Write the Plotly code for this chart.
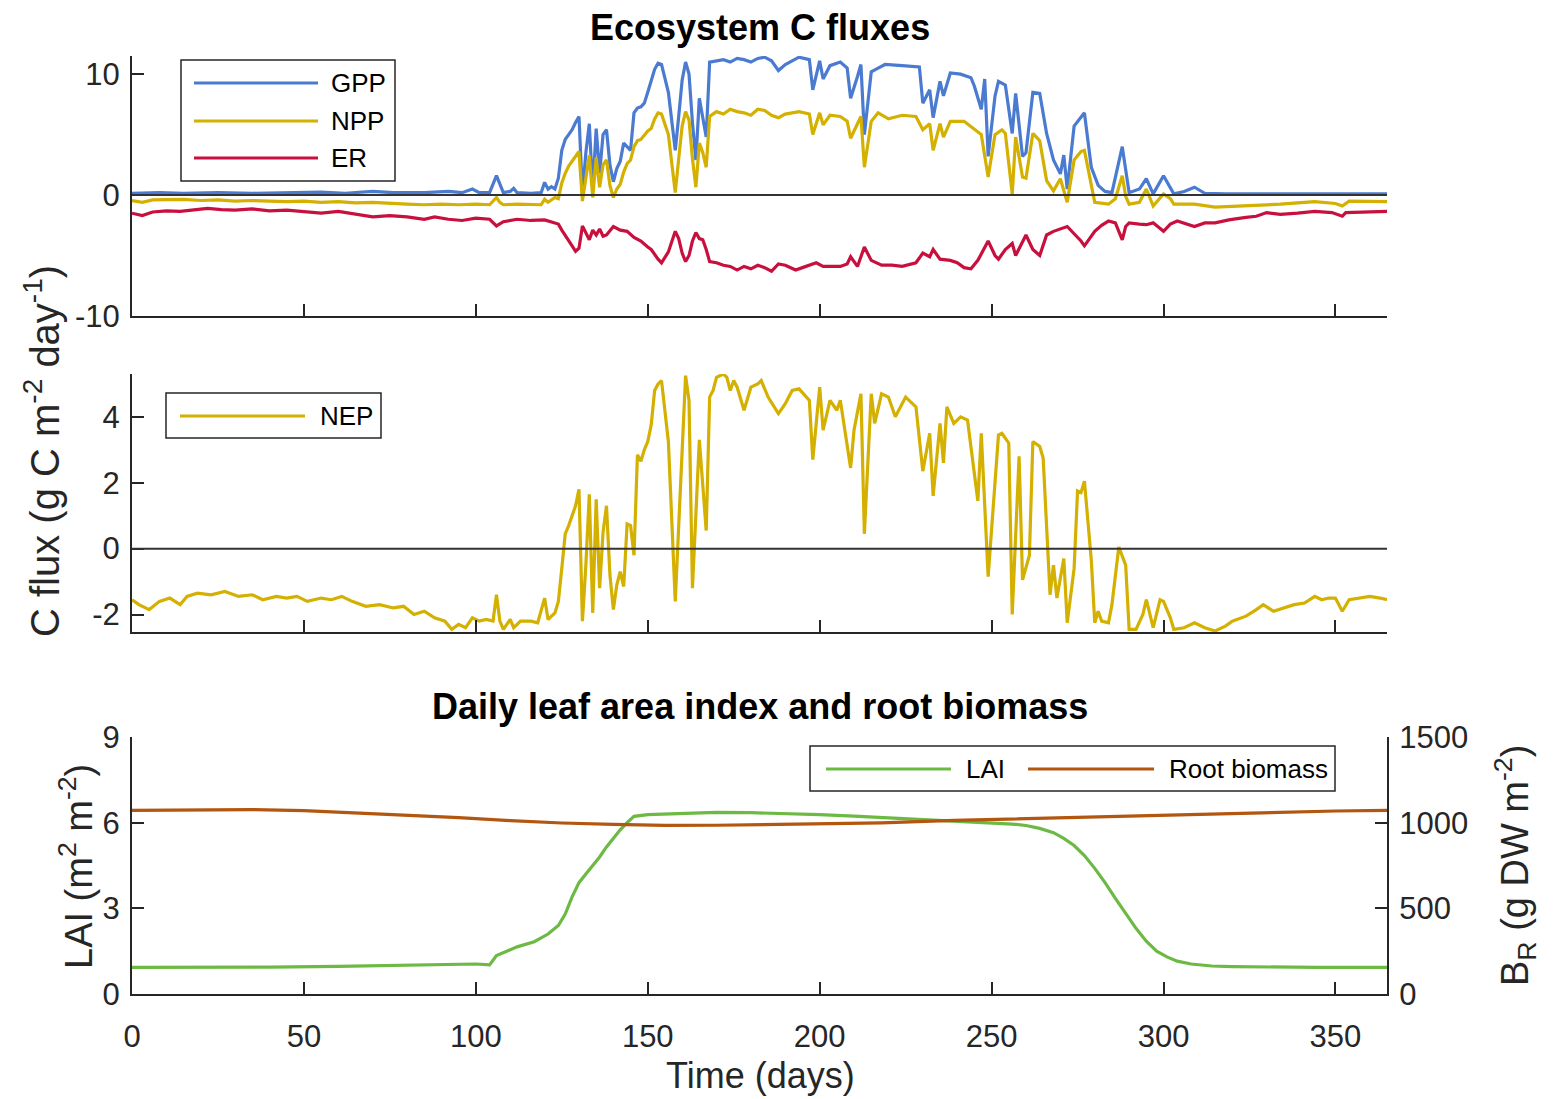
import plotly.graph_objects as go

# ---------------- data ----------------
gpp_days = [0, 8, 15, 25, 35, 45, 55, 62, 70, 76, 85, 92, 96, 99, 101, 104, 106, 107, 108, 110, 111, 112,
            116, 119, 120, 121, 122, 123, 124, 125, 126, 127, 128, 129, 130, 131, 132, 133, 134, 135, 136,
            137, 138, 139, 140, 141, 142, 143, 144, 145, 146, 147, 148, 149, 150, 151, 152, 153, 154, 156,
            158, 159, 160, 161, 162, 163, 164, 165, 166, 167, 168, 170, 172, 174, 176, 178, 180, 182, 184,
            186, 188, 190, 194, 197, 198, 200, 201, 203, 206, 208, 209, 211, 212, 213, 215, 217, 219, 224,
            229, 230, 232, 233, 235, 236, 238, 241, 244, 245, 247, 248, 249, 251, 252, 254, 256, 257, 259,
            260, 262, 264, 266, 268, 270, 271, 272, 274, 276, 277, 279, 281, 283, 285, 288, 290, 293, 295,
            297, 300, 303, 306, 309, 312, 318, 325, 335, 345, 355, 365]
gpp = [0.15, 0.2, 0.15, 0.2, 0.15, 0.2, 0.25, 0.15, 0.3, 0.2, 0.2, 0.3, 0.2, 0.5, 0.2, 0.2, 1.6, 0.9, 0.2, 0.3,
       0.55, 0.2, 0.15, 0.2, 1.05, 0.5, 0.7, 0.5, 1.4, 3.7, 4.6, 5.0, 5.4, 6.0, 6.5, 0.1, 3.5, 5.9, 0.4, 5.5,
       1.8, 5.0, 5.4, 2.5, 1.1, 2.2, 2.8, 4.3, 4.0, 3.7, 6.8, 7.2, 7.3, 7.6, 8.5, 9.5, 10.4, 10.9, 10.8, 8.5,
       3.7, 6.5, 9.5, 11.0, 10.0, 6.0, 2.9, 8.0, 6.5, 4.8, 11.0, 11.1, 11.2, 11.0, 11.3, 11.2, 11.0, 11.3,
       11.4, 11.1, 10.3, 10.8, 11.4, 11.2, 8.7, 11.1, 9.6, 10.7, 11.0, 10.5, 8.0, 9.8, 10.8, 5.0, 10.2, 10.5,
       10.8, 10.7, 10.6, 7.6, 8.7, 6.4, 9.4, 8.2, 10.1, 10.0, 9.7, 9.0, 7.1, 9.6, 3.2, 8.2, 9.4, 9.1, 5.1,
       8.4, 3.2, 3.5, 8.5, 8.4, 5.1, 2.9, 1.75, 3.3, 0.5, 5.7, 6.5, 6.8, 2.3, 0.8, 0.3, 0.2, 4.0, 0.2, 0.5,
       1.35, 0.1, 1.6, 0.1, 0.3, 0.65, 0.15, 0.1, 0.12, 0.1, 0.1, 0.1, 0.1]

npp_days = [0, 3, 6, 10, 15, 20, 25, 30, 35, 40, 45, 50, 55, 60, 65, 70, 75, 80, 85, 90, 95, 100, 104, 106,
            107, 108, 112, 116, 119, 120, 121, 123, 124, 125, 126, 127, 128, 129, 130, 131, 132, 133, 134,
            135, 136, 137, 138, 139, 140, 141, 142, 143, 144, 145, 146, 147, 148, 150, 151, 152, 153, 154,
            156, 158, 159, 160, 161, 162, 163, 164, 165, 166, 167, 168, 170, 172, 174, 176, 178, 180, 182,
            184, 186, 188, 190, 194, 197, 198, 200, 201, 203, 206, 208, 209, 211, 212, 213, 215, 217, 220,
            224, 228, 230, 232, 233, 235, 236, 238, 242, 245, 247, 249, 251, 253, 254, 256, 257, 259, 260,
            262, 264, 266, 268, 270, 272, 274, 276, 277, 279, 280, 284, 286, 288, 289, 290, 293, 295, 297,
            300, 302, 303, 309, 315, 319, 324, 330, 334, 339, 344, 350, 352, 354, 360, 365]
npp = [-0.45, -0.6, -0.4, -0.4, -0.35, -0.45, -0.4, -0.5, -0.45, -0.5, -0.55, -0.5, -0.6, -0.55, -0.65, -0.6,
       -0.7, -0.75, -0.8, -0.75, -0.8, -0.75, -0.8, -0.2, -0.6, -0.8, -0.75, -0.8, -0.8, -0.35, -0.6, -0.2,
       -0.3, 1.0, 1.8, 2.4, 2.8, 3.2, 3.6, -0.5, 1.5, 3.3, -0.2, 3.1, 0.65, 2.5, 2.9, 0.8, -0.2, 0.5, 0.9,
       1.9, 2.6, 2.9, 4.0, 4.5, 4.6, 5.3, 5.5, 6.3, 6.8, 6.7, 5.0, 0.2, 3.0, 5.7, 6.9, 6.2, 3.0, 0.65, 4.3,
       3.5, 2.3, 6.5, 6.9, 6.7, 7.1, 6.9, 6.8, 6.6, 7.1, 7.0, 6.6, 6.4, 6.7, 6.9, 6.7, 5.0, 6.8, 5.8, 6.6,
       6.5, 6.1, 4.7, 5.9, 6.5, 2.3, 6.1, 6.8, 6.3, 6.6, 6.5, 5.4, 5.9, 3.7, 5.9, 4.8, 6.1, 6.1, 5.4, 5.0,
       1.5, 5.0, 5.4, 5.1, 0.1, 4.8, 1.5, 1.4, 5.1, 4.5, 1.2, 0.35, 1.35, -0.6, 2.9, 3.6, 3.7, 0.9, -0.6,
       -0.75, -0.3, 1.6, -0.1, -0.75, -0.6, 0.5, -0.9, 0.1, -0.3, -0.75, -0.75, -1.0, -0.95, -0.9, -0.85,
       -0.75, -0.65, -0.55, -0.7, -0.9, -0.5, -0.55, -0.55]

er_days = [0, 3, 6, 10, 14, 18, 22, 26, 30, 35, 40, 45, 50, 55, 60, 65, 70, 75, 80, 85, 88, 92, 96, 100, 104,
           106, 108, 112, 116, 120, 122, 124, 125, 126, 127, 128, 129, 130, 131, 132, 133, 134, 135, 136,
           137, 138, 139, 140, 142, 144, 146, 148, 150, 151, 153, 154, 156, 158, 159, 160, 161, 162, 163,
           164, 165, 166, 167, 168, 170, 172, 174, 176, 178, 180, 182, 184, 186, 188, 190, 193, 195, 197,
           199, 201, 203, 206, 208, 209, 211, 213, 215, 218, 221, 224, 228, 230, 232, 233, 235, 238, 240,
           242, 244, 246, 249, 251, 252, 254, 256, 257, 260, 262, 264, 266, 268, 270, 272, 274, 276, 277,
           280, 282, 284, 286, 288, 289, 290, 293, 295, 297, 300, 302, 304, 309, 312, 315, 319, 324, 327,
           330, 334, 339, 344, 349, 352, 353, 358, 363, 365]
er = [-1.5, -1.7, -1.4, -1.3, -1.35, -1.2, -1.1, -1.2, -1.25, -1.15, -1.3, -1.25, -1.4, -1.5, -1.35, -1.6,
      -1.8, -1.7, -1.8, -2.0, -1.8, -2.0, -2.1, -1.9, -2.0, -2.55, -2.2, -2.0, -2.1, -2.05, -2.2, -2.4, -2.9,
      -3.3, -3.8, -4.2, -4.65, -4.4, -2.55, -3.2, -3.7, -2.9, -3.3, -2.8, -3.4, -3.3, -2.9, -2.6, -2.9, -3.0,
      -3.5, -3.8, -4.3, -4.5, -5.3, -5.6, -4.7, -3.0, -3.6, -4.8, -5.5, -5.0, -3.8, -3.1, -3.6, -3.7, -4.5,
      -5.5, -5.6, -5.8, -5.9, -6.2, -5.9, -6.1, -5.8, -6.0, -6.3, -5.7, -5.8, -6.2, -6.0, -5.8, -5.6, -5.9,
      -5.9, -5.9, -5.7, -5.1, -5.9, -4.3, -5.4, -5.8, -5.8, -5.9, -5.6, -4.8, -5.1, -4.5, -5.3, -5.4, -5.6,
      -6.0, -6.1, -5.4, -3.8, -5.0, -5.3, -4.5, -4.0, -5.0, -3.3, -4.5, -5.0, -3.3, -3.0, -2.8, -2.6, -3.2,
      -3.8, -4.2, -3.0, -2.5, -2.15, -2.3, -3.7, -2.6, -2.3, -2.4, -2.45, -2.3, -3.0, -2.4, -2.15, -2.6,
      -2.3, -2.3, -2.05, -1.85, -1.75, -1.45, -1.6, -1.5, -1.35, -1.45, -1.75, -1.45, -1.4, -1.35, -1.35]

nep_days = [0, 2, 5, 8, 11, 14, 16, 19, 23, 27, 31, 35, 38, 42, 45, 48, 51, 55, 58, 61, 64, 68, 72, 76, 79,
            82, 85, 88, 91, 93, 95, 97, 99, 101, 103, 105, 106, 107, 108, 110, 111, 113, 116, 118, 120, 121,
            123, 124, 125, 126, 127, 128, 129, 130, 131, 132, 133, 134, 135, 136, 137, 138, 139, 140, 141,
            142, 143, 144, 145, 146, 147, 148, 149, 150, 151, 152, 153, 154, 156, 158, 161, 162, 163, 165,
            166, 167, 168, 169, 170, 172, 173, 174, 175, 176, 178, 180, 182, 183, 185, 188, 190, 192, 194,
            197, 198, 200, 201, 203, 205, 206, 209, 210, 212, 213, 215, 216, 218, 220, 222, 225, 228, 230,
            232, 233, 235, 236, 237, 239, 241, 243, 246, 247, 249, 252, 253, 255, 256, 258, 259, 261, 262,
            264, 265, 267, 268, 269, 271, 272, 274, 275, 276, 277, 279, 280, 281, 282, 284, 285, 287, 289,
            290, 292, 294, 295, 297, 299, 300, 302, 303, 306, 309, 312, 315, 318, 320, 324, 327, 329, 332,
            335, 338, 341, 344, 346, 348, 350, 352, 354, 357, 360, 363, 365]
nep = [-1.55, -1.7, -1.85, -1.6, -1.5, -1.7, -1.45, -1.35, -1.4, -1.3, -1.45, -1.4, -1.55, -1.45, -1.5, -1.45,
       -1.6, -1.5, -1.55, -1.45, -1.6, -1.75, -1.7, -1.8, -1.75, -2.0, -1.9, -2.1, -2.2, -2.45, -2.3, -2.4,
       -2.1, -2.2, -2.15, -2.2, -1.4, -2.2, -2.45, -2.15, -2.4, -2.2, -2.2, -2.25, -1.5, -2.15, -1.95, -1.6,
       -0.6, 0.45, 0.7, 1.0, 1.3, 1.8, -2.2, -0.5, 1.65, -1.95, 1.5, -1.2, 0.5, 1.3, -0.8, -1.85, -1.1, -0.7,
       -1.15, 0.75, 0.7, -0.2, 2.85, 2.65, 3.0, 3.25, 3.75, 4.8, 5.0, 5.1, 3.25, -1.6, 5.25, 4.5, -1.2, 3.3,
       1.8, 0.55, 4.6, 4.8, 5.2, 5.3, 5.2, 4.8, 5.1, 4.9, 4.2, 4.9, 5.0, 5.1, 4.6, 4.1, 4.4, 4.8, 4.85, 4.5,
       2.7, 4.9, 3.6, 4.5, 4.2, 4.5, 2.45, 3.6, 4.7, 0.45, 4.7, 3.8, 4.7, 4.6, 4.0, 4.6, 4.3, 2.35, 3.5, 1.6,
       3.8, 2.6, 4.3, 3.8, 4.0, 3.9, 1.45, 3.5, -0.85, 3.45, 3.5, 3.2, -2.0, 2.8, -0.95, -0.2, 3.25, 3.1,
       2.75, -1.4, -0.5, -1.5, -0.3, -2.25, -0.6, 1.75, 1.7, 2.05, -0.35, -2.25, -1.9, -2.2, -2.25, -1.7,
       0.05, -0.5, -2.45, -2.45, -2.0, -1.55, -2.4, -1.55, -1.6, -2.1, -2.45, -2.4, -2.25, -2.4, -2.5, -2.35,
       -2.2, -2.05, -1.85, -1.7, -1.9, -1.8, -1.7, -1.65, -1.45, -1.55, -1.5, -1.5, -1.9, -1.55, -1.5, -1.45,
       -1.5, -1.55]

lai_days = [0, 20, 40, 60, 80, 95, 100, 104, 106, 109, 112, 117, 121, 124, 126, 128, 130, 132, 134, 136, 138,
            140, 142, 144, 146, 150, 160, 170, 180, 190, 200, 210, 220, 230, 240, 250, 256, 260, 264, 268,
            271, 274, 277, 280, 283, 286, 289, 292, 295, 298, 301, 304, 308, 314, 320, 330, 345, 365]
lai = [0.93, 0.93, 0.94, 0.97, 1.0, 1.03, 1.05, 1.02, 1.35, 1.5, 1.65, 1.83, 2.1, 2.4, 2.8, 3.4, 3.9, 4.2,
       4.5, 4.8, 5.15, 5.45, 5.75, 6.0, 6.22, 6.28, 6.33, 6.36, 6.35, 6.32, 6.28, 6.23, 6.17, 6.1, 6.03, 5.98,
       5.95, 5.9, 5.8, 5.65, 5.45, 5.2, 4.85, 4.4, 3.9, 3.35, 2.8, 2.3, 1.85, 1.5, 1.3, 1.15, 1.05, 0.98,
       0.96, 0.94, 0.93, 0.93]

root_days = [0, 20, 35, 50, 65, 80, 95, 110, 125, 140, 155, 170, 185, 200, 218, 239, 260, 275, 290, 305, 320,
             333, 350, 365]
root = [1072, 1076, 1076, 1070, 1058, 1045, 1030, 1012, 998, 990, 984, 985, 988, 992, 999, 1013, 1024, 1030,
        1040, 1049, 1056, 1063, 1068, 1072]

x_ticks = [0, 50, 100, 150, 200, 250, 300, 350]
flux_ticks = [-10, 0, 10]
nep_ticks = [-2, 0, 2, 4]
lai_ticks = [0, 3, 6, 9]
root_ticks = [0, 500, 1000, 1500]

# ---------------- styling ----------------
W, H = 1559, 1099          # browser window
OFF = 8                    # default page body margin
FW, FH = W - 2 * OFF, H - OFF   # figure reaches the bottom edge of the window
FONT = "Liberation Sans, Arial, Helvetica, sans-serif"
AX = "#262626"
C_GPP, C_NPP, C_ER = "#4a7bd0", "#d4b000", "#c8103e"
C_LAI, C_ROOT = "#6cb944", "#b3560f"


def fx(p):
    return (p - OFF) / FW


def fy(p):
    return 1 - (p - OFF) / FH


def labels(vals):
    return [str(v) for v in vals]  # plain hyphen-minus like the reference


X_DOM = [fx(132), fx(1387)]

fig = go.Figure()
lw = 3.2
fig.add_trace(go.Scatter(x=gpp_days, y=gpp, mode="lines", line=dict(color=C_GPP, width=lw), xaxis="x", yaxis="y", name="GPP"))
fig.add_trace(go.Scatter(x=npp_days, y=npp, mode="lines", line=dict(color=C_NPP, width=lw), xaxis="x", yaxis="y", name="NPP"))
fig.add_trace(go.Scatter(x=er_days, y=er, mode="lines", line=dict(color=C_ER, width=lw), xaxis="x", yaxis="y", name="ER"))
fig.add_trace(go.Scatter(x=nep_days, y=nep, mode="lines", line=dict(color=C_NPP, width=lw), xaxis="x2", yaxis="y2", name="NEP"))
fig.add_trace(go.Scatter(x=lai_days, y=lai, mode="lines", line=dict(color=C_LAI, width=lw), xaxis="x3", yaxis="y3", name="LAI"))
fig.add_trace(go.Scatter(x=root_days, y=root, mode="lines", line=dict(color=C_ROOT, width=lw), xaxis="x3", yaxis="y4", name="Root biomass"))

tickfont = dict(family=FONT, size=31, color=AX)
common_x = dict(range=[0, 365], tickvals=x_ticks, ticktext=labels(x_ticks), ticks="inside", ticklen=12,
                tickwidth=2, tickcolor=AX, showline=True, linecolor=AX, linewidth=2, showgrid=False,
                zeroline=False, tickfont=tickfont, automargin=False)
common_y = dict(ticks="inside", ticklen=12, tickwidth=2, tickcolor=AX, showline=True, linecolor=AX,
                linewidth=2, showgrid=False, zeroline=False, tickfont=tickfont, ticklabelstandoff=4,
                automargin=False)

fig.update_layout(
    width=FW, height=FH, autosize=False,
    margin=dict(l=0, r=0, t=0, b=0, pad=0, autoexpand=False),
    paper_bgcolor="white", plot_bgcolor="white", showlegend=False,
    font=dict(family=FONT, color=AX),
    xaxis=dict(domain=X_DOM, anchor="y", showticklabels=False, **common_x),
    yaxis=dict(domain=[fy(316), fy(56)], range=[-10, 11.5], tickvals=flux_ticks, ticktext=labels(flux_ticks),
               anchor="x", **common_y),
    xaxis2=dict(domain=X_DOM, anchor="y2", showticklabels=False, **common_x),
    yaxis2=dict(domain=[fy(632), fy(374)], range=[-2.53, 5.3], tickvals=nep_ticks, ticktext=labels(nep_ticks),
                anchor="x2", **common_y),
    xaxis3=dict(domain=X_DOM, anchor="y3", showticklabels=True, ticklabelstandoff=14, **common_x),
    yaxis3=dict(domain=[fy(994), fy(737)], range=[0, 9], tickvals=lai_ticks, ticktext=labels(lai_ticks),
                anchor="x3", **common_y),
    yaxis4=dict(domain=[fy(994), fy(737)], range=[0, 1500], tickvals=root_ticks, ticktext=labels(root_ticks),
                anchor="x3", overlaying="y3", side="right", **common_y),
)

shapes = []
# zero reference lines
for xr, yr in (("x domain", "y"), ("x2 domain", "y2")):
    shapes.append(dict(type="line", xref=xr, x0=0, x1=1, yref=yr, y0=0, y1=0,
                       line=dict(color="#333333", width=2), layer="above"))

annotations = []


def legend_box(x0, x1, y0, y1):
    shapes.append(dict(type="rect", xref="paper", yref="paper", x0=fx(x0), x1=fx(x1), y0=fy(y1), y1=fy(y0),
                       line=dict(color=AX, width=1.5), fillcolor="white", layer="above"))


def legend_item(lx0, lx1, ly, tx, text, color):
    shapes.append(dict(type="line", xref="paper", yref="paper", x0=fx(lx0), x1=fx(lx1), y0=fy(ly), y1=fy(ly),
                       line=dict(color=color, width=3.2), layer="above"))
    annotations.append(dict(text=text, xref="paper", yref="paper", x=fx(tx), y=fy(ly), xanchor="left",
                            yanchor="middle", showarrow=False, font=dict(family=FONT, size=26, color="black")))


legend_box(181, 395, 60, 181)
legend_item(194, 318, 83, 329, "GPP", C_GPP)
legend_item(194, 318, 121, 329, "NPP", C_NPP)
legend_item(194, 318, 158, 329, "ER", C_ER)

legend_box(166, 381, 393, 438)
legend_item(180, 305, 416, 318, "NEP", C_NPP)

legend_box(810, 1335, 746, 791)
legend_item(826, 951, 769, 964, "LAI", C_LAI)
legend_item(1028, 1154, 769, 1167, "Root biomass", C_ROOT)

# titles and axis labels
annotations.append(dict(text="<b>Ecosystem C fluxes</b>", xref="paper", yref="paper", x=fx(760), y=fy(28),
                        xanchor="center", yanchor="middle", showarrow=False,
                        font=dict(family=FONT, size=36, color="black")))
annotations.append(dict(text="<b>Daily leaf area index and root biomass</b>", xref="paper", yref="paper",
                        x=fx(760), y=fy(706), xanchor="center", yanchor="middle", showarrow=False,
                        font=dict(family=FONT, size=36, color="black")))
annotations.append(dict(text="Time (days)", xref="paper", yref="paper", x=fx(760), y=fy(1075),
                        xanchor="center", yanchor="middle", showarrow=False,
                        font=dict(family=FONT, size=36, color=AX)))
annotations.append(dict(text="C flux (g C m<sup>-2</sup> day<sup>-1</sup>)", xref="paper", yref="paper",
                        x=fx(42), y=fy(451), xanchor="center", yanchor="middle", textangle=-90,
                        showarrow=False, font=dict(family=FONT, size=40, color=AX)))
annotations.append(dict(text="LAI (m<sup>2</sup> m<sup>-2</sup>)", xref="paper", yref="paper",
                        x=fx(76), y=fy(867), xanchor="center", yanchor="middle", textangle=-90,
                        showarrow=False, font=dict(family=FONT, size=38, color=AX)))
annotations.append(dict(text="B<sub>R</sub> (g DW m<sup>-2</sup>)", xref="paper", yref="paper",
                        x=fx(1515), y=fy(866), xanchor="center", yanchor="middle", textangle=-90,
                        showarrow=False, font=dict(family=FONT, size=38, color=AX)))

fig.update_layout(shapes=shapes, annotations=annotations)
fig.write_html(
    "out.html",
    post_script="document.documentElement.style.overflow='hidden';document.body.style.overflow='hidden';",
)
